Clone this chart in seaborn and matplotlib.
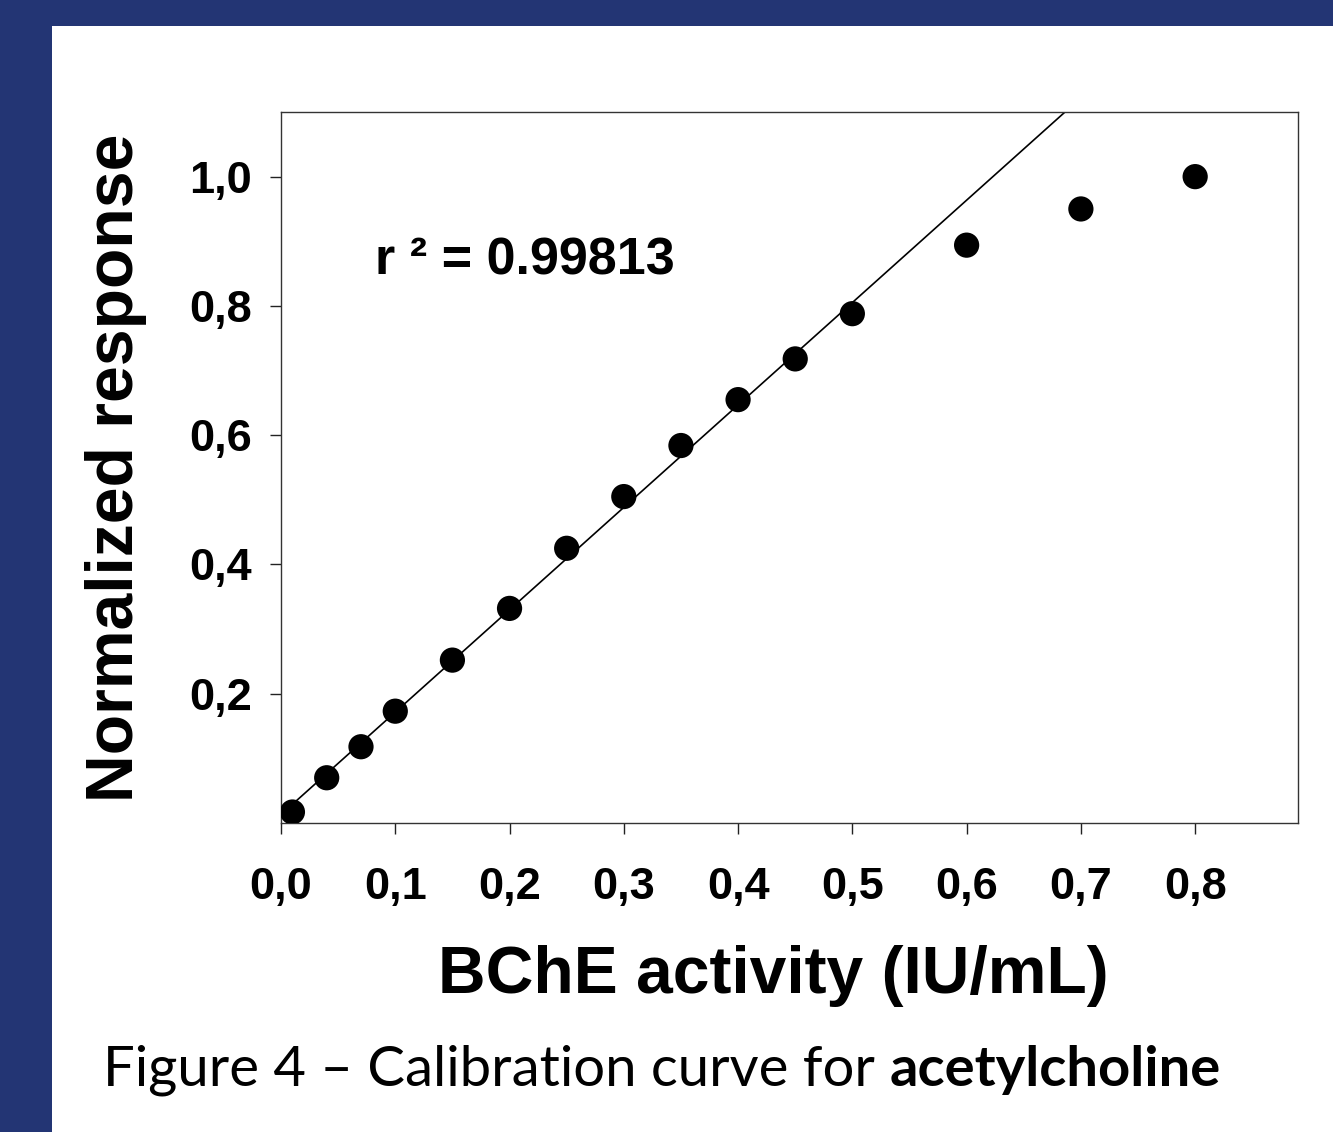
import matplotlib
matplotlib.use("Agg")
import matplotlib.pyplot as plt
import seaborn as sns
import pandas as pd
from matplotlib.patches import Rectangle

# ---- data ----
activity = [0.01, 0.04, 0.07, 0.10, 0.15, 0.20, 0.25, 0.30, 0.35, 0.40, 0.45, 0.50, 0.60, 0.70, 0.80]
response = [0.017, 0.070, 0.118, 0.173, 0.252, 0.332, 0.425, 0.505, 0.584, 0.655, 0.718, 0.788, 0.894, 0.950, 1.000]
fit_x = [0.005, 0.700]
fit_y = [0.021, 1.122]
x_ticks = [0.0, 0.1, 0.2, 0.3, 0.4, 0.5, 0.6, 0.7, 0.8]
x_tick_labels = ["0,0", "0,1", "0,2", "0,3", "0,4", "0,5", "0,6", "0,7", "0,8"]
y_ticks = [0.2, 0.4, 0.6, 0.8, 1.0]
y_tick_labels = ["0,2", "0,4", "0,6", "0,8", "1,0"]
r2_text = "r ² = 0.99813"

df = pd.DataFrame({"activity": activity, "response": response})
fit = pd.DataFrame({"x": fit_x, "y": fit_y})

sns.set_style("white")
plt.rcParams["font.family"] = ["Liberation Sans", "DejaVu Sans"]
plt.rcParams["text.color"] = "black"
plt.rcParams["axes.labelcolor"] = "black"
plt.rcParams["xtick.color"] = "black"
plt.rcParams["ytick.color"] = "black"

BLUE = "#233574"
fig = plt.figure(figsize=(13.33, 11.32), dpi=100, facecolor=BLUE)
fig.patches.append(Rectangle((52 / 1333, 0), 1 - 52 / 1333, 1 - 26 / 1132,
                             transform=fig.transFigure, facecolor="white",
                             edgecolor="none", zorder=-10))

ax = fig.add_axes([281 / 1333, 1 - 823 / 1132, (1298 - 281) / 1333, (823 - 112) / 1132])
ax.set_facecolor("white")

sns.lineplot(data=fit, x="x", y="y", ax=ax, color="black", linewidth=1.2, zorder=2)
sns.scatterplot(data=df, x="activity", y="response", ax=ax, color="black",
                s=330, edgecolor="none", zorder=3)

ax.set_xlim(0, 0.89)
ax.set_ylim(0, 1.10)
ax.set_xticks(x_ticks)
ax.set_xticklabels(x_tick_labels, fontsize=32.5, fontweight="bold")
ax.set_yticks(y_ticks)
ax.set_yticklabels(y_tick_labels, fontsize=32.5, fontweight="bold")
ax.tick_params(axis="both", direction="out", length=8, width=1, color="#222222",
               bottom=True, left=True, top=False, right=False)
ax.tick_params(axis="x", pad=24)
ax.tick_params(axis="y", pad=13)

for sp in ax.spines.values():
    sp.set_visible(True)
    sp.set_color("#333333")
    sp.set_linewidth(1.0)

ax.set_xlabel("BChE activity (IU/mL)", fontsize=47.5, fontweight="bold", labelpad=26)
ax.xaxis.label.set_x(0.484)
ax.set_ylabel("Normalized response", fontsize=47.5, fontweight="bold", labelpad=30)

ax.text(0.082, 0.87, r2_text, fontsize=37.5, fontweight="bold", ha="left", va="center")

fig.text(103 / 1333, 1 - 1070 / 1132, "Figure 4 – Calibration curve for ",
         fontsize=40.5, ha="left", va="center", color="black", family=["Lato", "DejaVu Sans"])
t = fig.texts[-1]
fig.canvas.draw()
bb = t.get_window_extent()
fig.text(bb.x1 / 1333, 1 - 1070 / 1132, "acetylcholine", fontsize=40.5, fontweight="bold",
         ha="left", va="center", color="black", family=["Lato", "DejaVu Sans"])

fig.savefig("out.png", dpi=100, facecolor=BLUE)
